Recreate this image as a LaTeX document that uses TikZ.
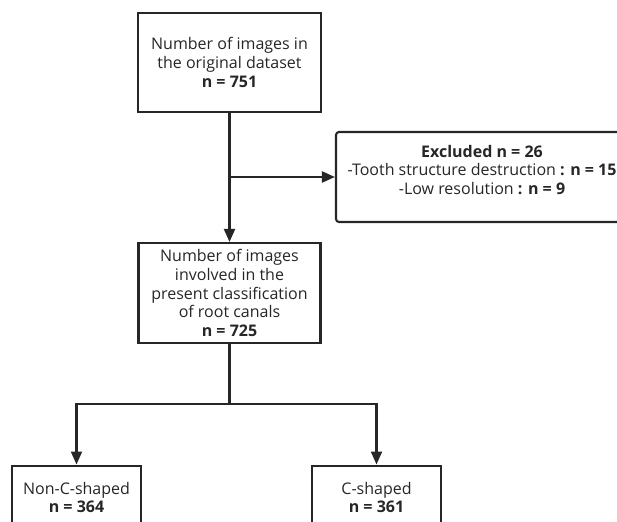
\documentclass[tikz,border=0pt]{standalone}
\usepackage{fontspec}
\setmainfont{Open Sans}
\usetikzlibrary{arrows.meta}
\definecolor{ink}{HTML}{262626}
\tikzset{
  box/.style={draw=ink, line width=2.1pt, rectangle, inner sep=0pt},
  txt/.style={align=center, text=ink, font=\fontsize{16}{18.6}\selectfont},
  conn/.style={draw=ink, line width=2.1pt},
  arr/.style={conn, -{Triangle[length=13pt,width=11pt]}}
}
\begin{document}
\begin{tikzpicture}[x=1pt,y=-1pt]
\useasboundingbox (0,0) rectangle (617,521);
\clip (0,0) rectangle (617,521);
\node (top) [box, txt, minimum width=183pt, minimum height=99pt] at (229.5,62.5)
  {Number of images in\\the original dataset\\\textbf{n = 751}};
\node (excl) [box, rounded corners=3pt, minimum width=292pt, minimum height=90pt] at (482,177) {};
\node (excltext) [txt] at (482,170)
  {\textbf{Excluded n = 26}\\-Tooth structure destruction \textbf{: n = 15}\\-Low resolution \textbf{: n = 9}};
\node (mid) [box, txt, minimum width=182pt, minimum height=100pt] at (229.5,293)
  {Number of images\\involved in the\\present classification\\of root canals\\\textbf{n = 725}};
\node (left) [box, txt, anchor=north, minimum width=129pt, minimum height=64pt] at (76.5,464.5)
  {Non-C-shaped\\\textbf{n = 364}};
\node (right) [box, txt, anchor=north, minimum width=129pt, minimum height=64pt] at (376.5,464.5)
  {C-shaped\\\textbf{n = 361}};
\draw[arr] (top.south) -- (mid.north);
\coordinate (branch) at (top.south |- excl.west);
\draw[arr] (branch) -- (excl.west);
\draw[conn] (mid.south) -- ++(0,60) coordinate (split);
\draw[arr] (split) -| (left.north);
\draw[arr] (split) -| (right.north);
\end{tikzpicture}
\end{document}
